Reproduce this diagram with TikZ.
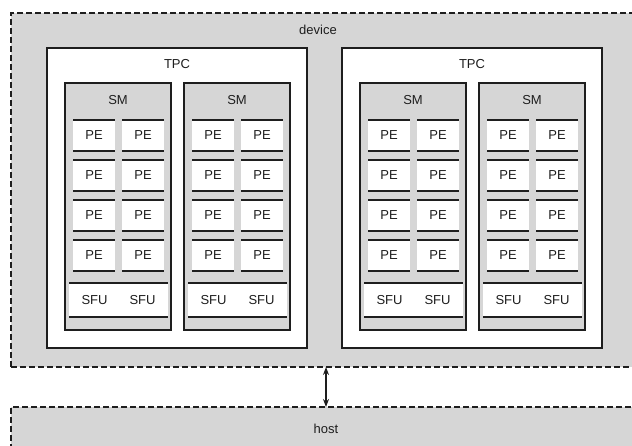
\documentclass[tikz,border=0pt]{standalone}
\usepackage{fontspec}
\setmainfont{Liberation Sans}
\usetikzlibrary{arrows.meta,positioning}
\definecolor{Shade}{HTML}{D6D6D6}
\definecolor{Ink}{HTML}{1E1E1E}

\tikzset{
  outerbox/.style={draw=Ink,fill=Shade,line width=1.3pt,dash pattern=on 6pt off 3pt,inner sep=0pt,outer sep=0pt,font=\fontsize{13}{15}\selectfont,text=Ink},
  tpcbox/.style={draw=Ink,fill=white,line width=1.4pt,inner sep=0pt,outer sep=0pt},
  smbox/.style={draw=Ink,fill=Shade,line width=1.4pt,inner sep=0pt,outer sep=0pt},
  unitbox/.style={fill=white,inner sep=0pt,outer sep=0pt,font=\fontsize{13}{15}\selectfont,text=Ink},
  bar/.style={draw=Ink,line width=1.8pt},
  lbl/.style={font=\fontsize{13}{15}\selectfont,text=Ink,inner sep=0pt},
}

\begin{document}
\begin{tikzpicture}[x=1pt,y=-1pt]
  \useasboundingbox (0,0) rectangle (632,445);
  \node[outerbox,minimum width=630pt,minimum height=354pt] (device) at (326,190) {};
  \node[lbl] (devlbl) at (318,30) {device};
  \node[outerbox,minimum width=630pt,minimum height=44pt] (host) at (326,429) {host};
  \draw[Ink,line width=1.5pt,{Stealth[length=8pt,width=6pt]}-{Stealth[length=8pt,width=6pt]}]
    (device.south) -- (host.north);
  \foreach \t/\tx in {1/47,2/342} {
    \node[tpcbox,minimum width=260pt,minimum height=300pt,anchor=north west] (tpc\t) at (\tx,48) {};
    \node[lbl] (tpclbl\t) at ({\tx+130},64) {TPC};
    \foreach \s/\sx in {1/18,2/137} {
      \pgfmathsetmacro\smx{\tx+\sx}
      \node[smbox,minimum width=106pt,minimum height=247pt,anchor=north west] (sm\t\s) at (\smx,83) {};
      \node[lbl] (smlbl\t\s) at ({\smx+53},100) {SM};
      % processing elements
      \foreach \r in {0,...,3} {
        \foreach \c/\cx in {1/8,2/57} {
          \node[unitbox,minimum width=42pt,minimum height=31pt,anchor=north west]
            (pe\t\s\r\c) at ({\smx+\cx},{120+40*\r}) {PE};
          \draw[bar] (pe\t\s\r\c.north west) -- (pe\t\s\r\c.north east)
                     (pe\t\s\r\c.south west) -- (pe\t\s\r\c.south east);
        }
      }
      \node[unitbox,minimum width=99pt,minimum height=34pt,anchor=north west] (sfu\t\s) at ({\smx+4},283) {};
      \draw[bar] (sfu\t\s.north west) -- (sfu\t\s.north east)
                 (sfu\t\s.south west) -- (sfu\t\s.south east);
      \node[lbl] (sfua\t\s) at ([xshift=-24pt]sfu\t\s.center) {SFU};
      \node[lbl] (sfub\t\s) at ([xshift=24pt]sfu\t\s.center) {SFU};
    }
  }
\end{tikzpicture}
\end{document}
